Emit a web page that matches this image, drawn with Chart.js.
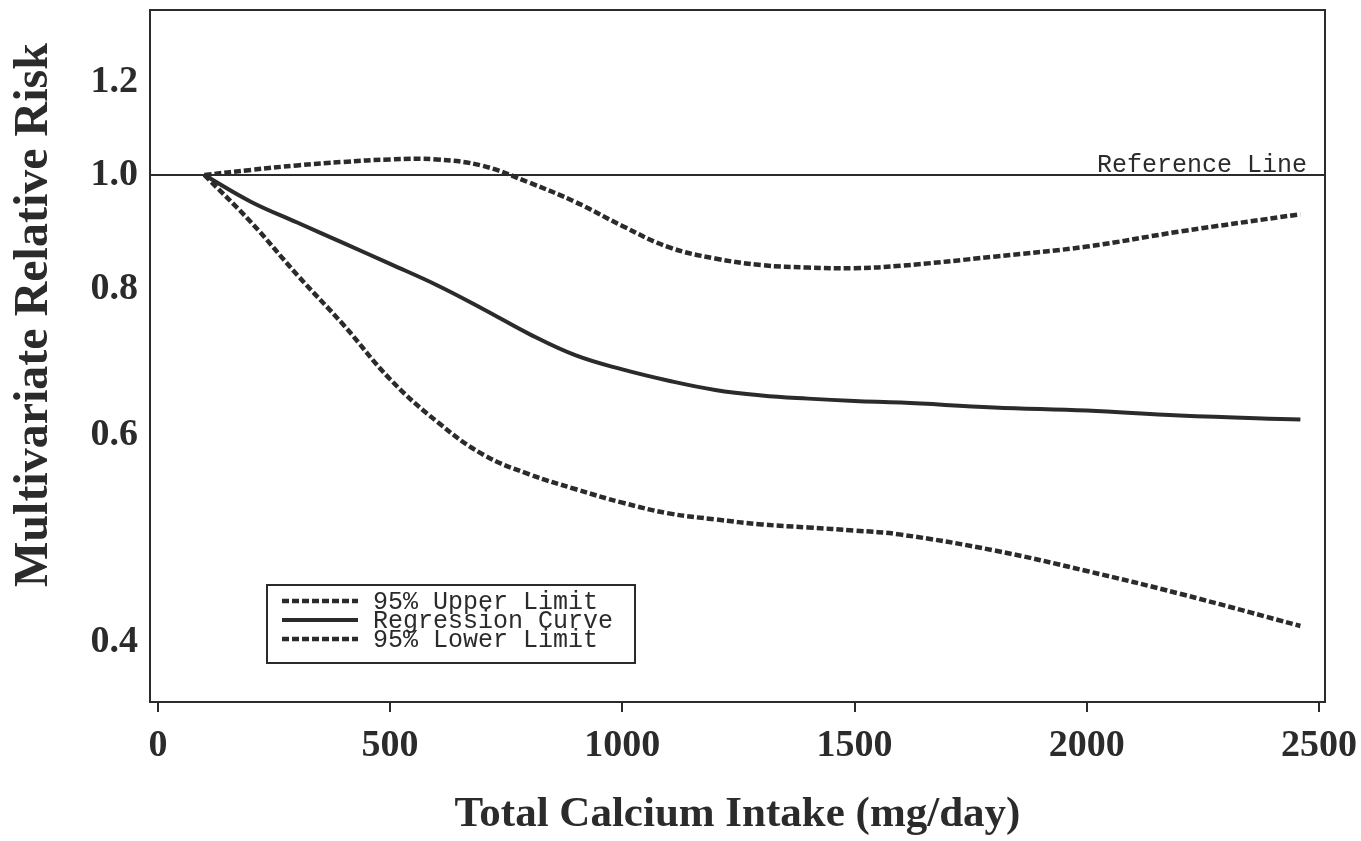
<!DOCTYPE html>
<html lang="en">
<head>
    <meta charset="UTF-8">
    <title>Total Calcium Intake and Multivariate Relative Risk</title>
    <script src="https://cdn.jsdelivr.net/npm/chart.js"></script>
    <style>
        body {
            margin: 0;
            background: #ffffff;
        }
        #wrap {
            width: 1361px;
            height: 841px;
        }
    </style>
</head>
<body>
    <div id="wrap"><canvas id="riskChart" width="1361" height="841"></canvas></div>
    <script>
        // values
        const intake = [100, 200, 300, 400, 500, 600, 700, 800, 900, 1000, 1100, 1200, 1300, 1400, 1500, 1600, 1800, 2000, 2200, 2460];
        const upperLimit = [1.000, 1.010, 1.019, 1.026, 1.031, 1.031, 1.018, 0.985, 0.948, 0.905, 0.868, 0.849, 0.838, 0.834, 0.833, 0.837, 0.852, 0.869, 0.895, 0.926];
        const regression = [1.000, 0.949, 0.911, 0.875, 0.840, 0.806, 0.769, 0.732, 0.702, 0.683, 0.668, 0.656, 0.649, 0.645, 0.642, 0.640, 0.634, 0.630, 0.624, 0.619];
        const lowerLimit = [1.000, 0.912, 0.822, 0.745, 0.670, 0.617, 0.578, 0.556, 0.540, 0.526, 0.515, 0.509, 0.504, 0.501, 0.498, 0.494, 0.479, 0.460, 0.440, 0.413];
        const seriesLabels = ['95% Upper Limit', 'Regression Curve', '95% Lower Limit'];
        const referenceRisk = 1.0;
        const xTicks = [0, 500, 1000, 1500, 2000, 2500];
        const yTicks = [0.4, 0.6, 0.8, 1.0, 1.2];

        const xMin = -17, xMax = 2513;
        const yMin = 0.3558, yMax = 1.382;

        const ink = '#2b2b2b';
        const serif = "'Liberation Serif', 'DejaVu Serif', serif";
        const mono = "'Liberation Mono', 'DejaVu Sans Mono', monospace";

        function points(values) {
            return intake.map((x, i) => ({ x: x, y: values[i] }));
        }

        // box around the plot area
        const framePlugin = {
            id: 'frame',
            afterDraw(chart) {
                const { ctx, chartArea } = chart;
                ctx.save();
                ctx.strokeStyle = ink;
                ctx.lineWidth = 2;
                ctx.strokeRect(chartArea.left, chartArea.top, chartArea.width, chartArea.height);
                ctx.restore();
            }
        };

        // "Reference Line" text, legend box and rotated y title
        const annotationsPlugin = {
            id: 'annotations',
            afterDraw(chart) {
                const { ctx, chartArea, scales } = chart;
                ctx.save();
                ctx.fillStyle = ink;

                ctx.font = '25px ' + mono;
                ctx.textAlign = 'right';
                ctx.textBaseline = 'alphabetic';
                ctx.fillText('Reference Line', chartArea.right - 18, scales.y.getPixelForValue(referenceRisk) - 3);

                const left = chartArea.left + 117;
                const top = chartArea.top + 575;
                ctx.strokeStyle = ink;
                ctx.lineWidth = 2;
                ctx.strokeRect(left, top, 368, 78);
                chart.data.datasets.slice(0, 3).forEach((ds, i) => {
                    const y = top + 16 + i * 19;
                    ctx.beginPath();
                    ctx.setLineDash(ds.borderDash || []);
                    ctx.lineWidth = ds.borderWidth;
                    ctx.moveTo(left + 15, y);
                    ctx.lineTo(left + 91, y);
                    ctx.stroke();
                    ctx.setLineDash([]);
                    ctx.textAlign = 'left';
                    ctx.textBaseline = 'middle';
                    ctx.fillText(ds.label, left + 106, y + 1);
                });

                ctx.translate(47, 315);
                ctx.rotate(-Math.PI / 2);
                ctx.font = 'bold 48px ' + serif;
                ctx.textAlign = 'center';
                ctx.textBaseline = 'alphabetic';
                ctx.fillText('Multivariate Relative Risk', 0, 0);
                ctx.restore();
            }
        };

        const ctx = document.getElementById('riskChart').getContext('2d');
        const riskChart = new Chart(ctx, {
            type: 'line',
            data: {
                datasets: [
                    {
                        label: seriesLabels[0],
                        data: points(upperLimit),
                        borderColor: ink,
                        borderWidth: 4.5,
                        borderDash: [7, 3],
                        tension: 0.4,
                        pointRadius: 0
                    },
                    {
                        label: seriesLabels[1],
                        data: points(regression),
                        borderColor: ink,
                        borderWidth: 4,
                        tension: 0.4,
                        pointRadius: 0
                    },
                    {
                        label: seriesLabels[2],
                        data: points(lowerLimit),
                        borderColor: ink,
                        borderWidth: 4.5,
                        borderDash: [7, 3],
                        tension: 0.4,
                        pointRadius: 0
                    },
                    {
                        label: 'Reference Line',
                        data: [{ x: xMin, y: referenceRisk }, { x: xMax, y: referenceRisk }],
                        borderColor: ink,
                        borderWidth: 2,
                        pointRadius: 0
                    }
                ]
            },
            options: {
                responsive: false,
                animation: false,
                layout: {
                    padding: { top: 10, right: 36, left: 0, bottom: 0 }
                },
                plugins: {
                    legend: { display: false },
                    tooltip: { enabled: false }
                },
                scales: {
                    x: {
                        type: 'linear',
                        min: xMin,
                        max: xMax,
                        bounds: 'data',
                        afterFit(scale) {
                            scale.height = 139;
                            scale.paddingLeft = 0;
                            scale.paddingRight = 0;
                        },
                        afterBuildTicks(scale) { scale.ticks = xTicks.map(v => ({ value: v })); },
                        border: { display: false },
                        grid: { drawOnChartArea: false, drawTicks: true, tickLength: 10, color: ink, lineWidth: 2 },
                        ticks: {
                            color: ink,
                            font: { family: serif, size: 38, weight: 'bold' },
                            padding: 11,
                            maxRotation: 0,
                            autoSkip: false,
                            callback: v => v
                        },
                        title: {
                            display: true,
                            text: 'Total Calcium Intake (mg/day)',
                            color: ink,
                            font: { family: serif, size: 43, weight: 'bold' },
                            padding: { top: 0, bottom: 0 }
                        }
                    },
                    y: {
                        type: 'logarithmic',
                        min: yMin,
                        max: yMax,
                        bounds: 'data',
                        afterFit(scale) {
                            scale.width = 150;
                            scale.paddingTop = 0;
                            scale.paddingBottom = 0;
                        },
                        afterBuildTicks(scale) { scale.ticks = yTicks.map(v => ({ value: v })); },
                        border: { display: false },
                        grid: { display: false, drawTicks: false },
                        ticks: {
                            color: ink,
                            font: { family: serif, size: 38, weight: 'bold' },
                            padding: 12,
                            autoSkip: false,
                            callback: v => Number(v).toFixed(1)
                        }
                    }
                }
            },
            plugins: [framePlugin, annotationsPlugin]
        });
    </script>
</body>
</html>
